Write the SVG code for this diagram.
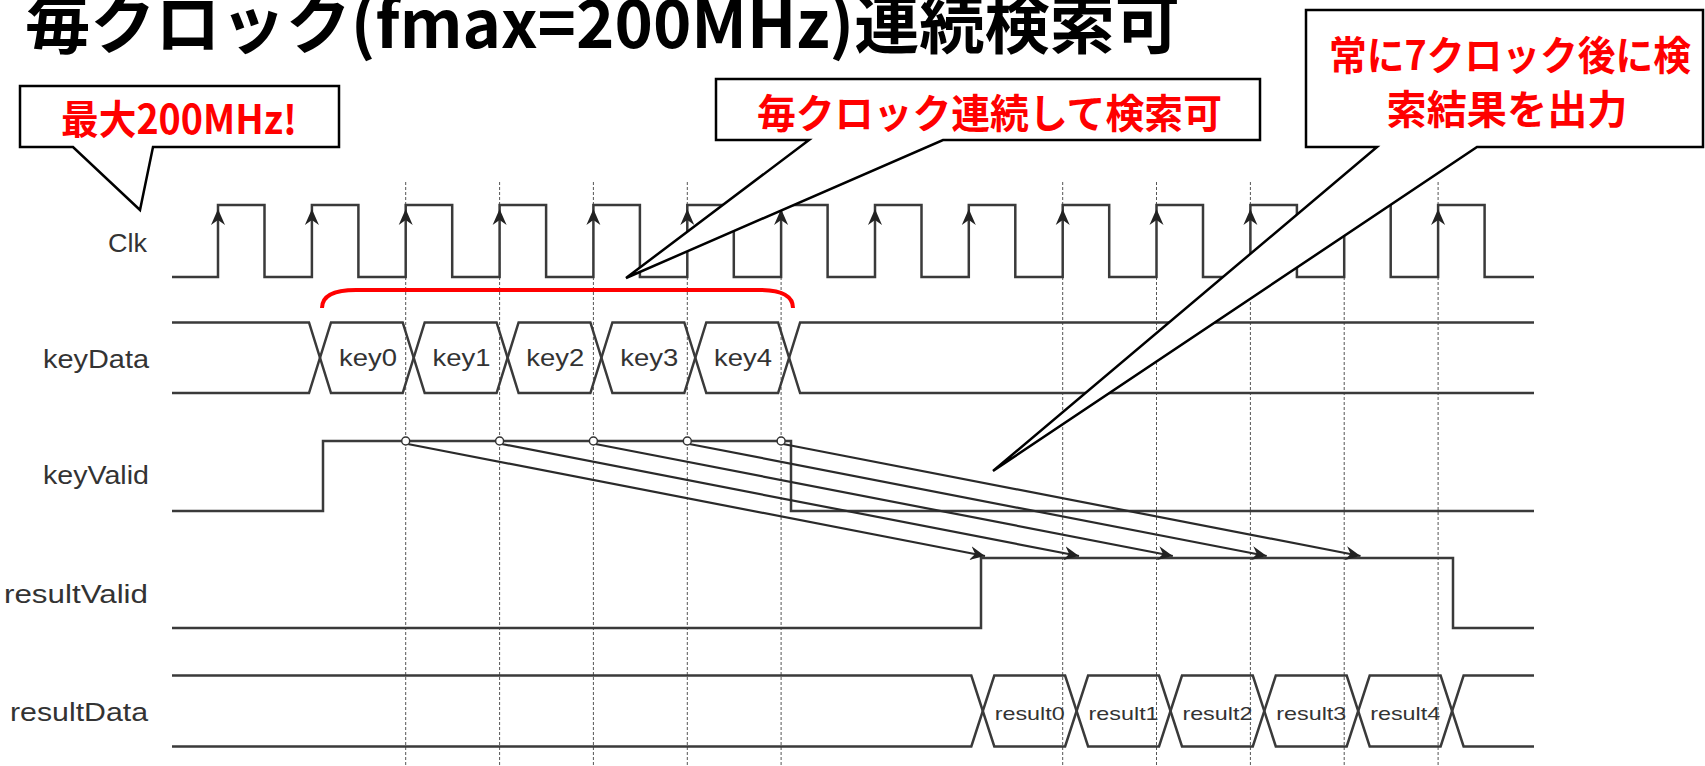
<svg xmlns="http://www.w3.org/2000/svg" xmlns:xlink="http://www.w3.org/1999/xlink" width="1705" height="766" viewBox="0 0 1705 766">
<style>
.wave{fill:none;stroke:#3a3a3a;stroke-width:2.5;stroke-linejoin:miter}
.grid{fill:none;stroke:#555;stroke-width:1;stroke-dasharray:3 2}
.lbl{font-family:"Liberation Sans",Arial,sans-serif;font-size:26px;fill:#333;text-anchor:end}
.dat{font-family:"Liberation Sans",Arial,sans-serif;font-size:24px;fill:#333;text-anchor:middle}
.res{font-family:"Liberation Sans",Arial,sans-serif;font-size:19px;fill:#333;text-anchor:middle}
.callout{fill:#fff;stroke:#000;stroke-width:2.5;stroke-linejoin:miter}
.ctext{font-family:"Noto Sans CJK JP","Noto Sans CJK SC",sans-serif;font-weight:bold;font-size:40px;fill:#ff0000;text-anchor:middle}
.arrow{fill:none;stroke:#2a2a2a;stroke-width:2.2}
.dot{fill:#fff;stroke:#333;stroke-width:1.5}
</style>
<defs>
<path id="ca" d="M0,0 L7,16 L0,11 L-7,16 Z" fill="#222"/>
<marker id="ah" markerUnits="userSpaceOnUse" markerWidth="18" markerHeight="14" refX="15" refY="7" orient="auto">
<path d="M0,0 L15,7 L0,14 L5,7 Z" fill="#222"/>
</marker>
</defs>
<rect width="1705" height="766" fill="#fff"/>

<g id="grid">
<line class="grid" x1="405.7" y1="182" x2="405.7" y2="766"/>
<line class="grid" x1="499.6" y1="182" x2="499.6" y2="766"/>
<line class="grid" x1="593.4" y1="182" x2="593.4" y2="766"/>
<line class="grid" x1="687.3" y1="182" x2="687.3" y2="766"/>
<line class="grid" x1="781.1" y1="182" x2="781.1" y2="766"/>
<line class="grid" x1="1062.7" y1="182" x2="1062.7" y2="766"/>
<line class="grid" x1="1156.5" y1="182" x2="1156.5" y2="766"/>
<line class="grid" x1="1250.4" y1="182" x2="1250.4" y2="766"/>
<line class="grid" x1="1344.2" y1="182" x2="1344.2" y2="766"/>
<line class="grid" x1="1438.1" y1="182" x2="1438.1" y2="766"/>
</g>

<g id="clk">
<text class="lbl" x="147" y="252" textLength="39" lengthAdjust="spacingAndGlyphs">Clk</text>
<path class="wave" d="M172,277 H218 V205 H264.5 V277 H311.9 V205 H358.4 V277 H405.7 V205 H452.2 V277 H499.6 V205 H546.1 V277 H593.4 V205 H639.9 V277 H687.3 V205 H733.8 V277 H781.1 V205 H827.6 V277 H875 V205 H921.5 V277 H968.8 V205 H1015.3 V277 H1062.7 V205 H1109.2 V277 H1156.5 V205 H1203 V277 H1250.4 V205 H1296.9 V277 H1344.2 V205 H1390.7 V277 H1438.1 V205 H1484.6 V277 H1534"/>
<use xlink:href="#ca" x="218" y="209"/>
<use xlink:href="#ca" x="311.9" y="209"/>
<use xlink:href="#ca" x="405.7" y="209"/>
<use xlink:href="#ca" x="499.6" y="209"/>
<use xlink:href="#ca" x="593.4" y="209"/>
<use xlink:href="#ca" x="687.3" y="209"/>
<use xlink:href="#ca" x="781.1" y="209"/>
<use xlink:href="#ca" x="875" y="209"/>
<use xlink:href="#ca" x="968.8" y="209"/>
<use xlink:href="#ca" x="1062.7" y="209"/>
<use xlink:href="#ca" x="1156.5" y="209"/>
<use xlink:href="#ca" x="1250.4" y="209"/>
<use xlink:href="#ca" x="1344.2" y="209"/>
<use xlink:href="#ca" x="1438.1" y="209"/>
</g>

<g id="keyData">
<text class="lbl" x="149" y="368" textLength="106" lengthAdjust="spacingAndGlyphs">keyData</text>
<path class="wave" d="M172,322.5 H309 L331,393 H402.7 L424.7,322.5 H496.6 L518.6,393 H590.4 L612.4,322.5 H684.3 L706.3,393 H778.1 L800.1,322.5 H1534"/>
<path class="wave" d="M172,393 H309 L331,322.5 H402.7 L424.7,393 H496.6 L518.6,322.5 H590.4 L612.4,393 H684.3 L706.3,322.5 H778.1 L800.1,393 H1534"/>
<text class="dat" x="368" y="366" textLength="58" lengthAdjust="spacingAndGlyphs">key0</text>
<text class="dat" x="461.5" y="366" textLength="58" lengthAdjust="spacingAndGlyphs">key1</text>
<text class="dat" x="555.3" y="366" textLength="58" lengthAdjust="spacingAndGlyphs">key2</text>
<text class="dat" x="649.2" y="366" textLength="58" lengthAdjust="spacingAndGlyphs">key3</text>
<text class="dat" x="743" y="366" textLength="58" lengthAdjust="spacingAndGlyphs">key4</text>
</g>

<g id="keyValid">
<text class="lbl" x="149" y="484" textLength="106" lengthAdjust="spacingAndGlyphs">keyValid</text>
<path class="wave" d="M172,511 H323 V441 H791 V511 H1534"/>
</g>

<g id="resultValid">
<text class="lbl" x="148" y="603" textLength="144" lengthAdjust="spacingAndGlyphs">resultValid</text>
<path class="wave" d="M172,628 H981 V558 H1453 V628 H1534"/>
</g>

<g id="resultData">
<text class="lbl" x="148" y="721" textLength="138" lengthAdjust="spacingAndGlyphs">resultData</text>
<path class="wave" d="M172,675.5 H971.3 L994.3,746.5 H1065.1 L1088.1,675.5 H1159 L1182,746.5 H1252.8 L1275.8,675.5 H1346.7 L1369.7,746.5 H1440.6 L1463.6,675.5 H1534"/>
<path class="wave" d="M172,746.5 H971.3 L994.3,675.5 H1065.1 L1088.1,746.5 H1159 L1182,675.5 H1252.8 L1275.8,746.5 H1346.7 L1369.7,675.5 H1440.6 L1463.6,746.5 H1534"/>
<text class="res" x="1029.7" y="720" textLength="70" lengthAdjust="spacingAndGlyphs">result0</text>
<text class="res" x="1123.6" y="720" textLength="70" lengthAdjust="spacingAndGlyphs">result1</text>
<text class="res" x="1217.4" y="720" textLength="70" lengthAdjust="spacingAndGlyphs">result2</text>
<text class="res" x="1311.3" y="720" textLength="70" lengthAdjust="spacingAndGlyphs">result3</text>
<text class="res" x="1405.2" y="720" textLength="70" lengthAdjust="spacingAndGlyphs">result4</text>
</g>

<g id="connectors">
<line class="arrow" x1="407.7" y1="444" x2="985" y2="556" marker-end="url(#ah)"/>
<line class="arrow" x1="501.6" y1="444" x2="1079" y2="556" marker-end="url(#ah)"/>
<line class="arrow" x1="595.4" y1="444" x2="1172.8" y2="556" marker-end="url(#ah)"/>
<line class="arrow" x1="689.3" y1="444" x2="1266.7" y2="556" marker-end="url(#ah)"/>
<line class="arrow" x1="783.1" y1="444" x2="1360.5" y2="556" marker-end="url(#ah)"/>
<circle class="dot" cx="405.7" cy="441" r="4"/>
<circle class="dot" cx="499.6" cy="441" r="4"/>
<circle class="dot" cx="593.4" cy="441" r="4"/>
<circle class="dot" cx="687.3" cy="441" r="4"/>
<circle class="dot" cx="781.1" cy="441" r="4"/>
</g>

<g id="bracket">
<path d="M322,308 C322,296 334,290 356,290 H759 C781,290 793,296 793,308" fill="none" stroke="#ff0000" stroke-width="4"/>
</g>

<g id="callout1">
<path class="callout" d="M20,86 H339 V147 H153 L140,210 L73,147 H20 Z"/>
<text class="ctext" x="179" y="134" textLength="236" lengthAdjust="spacingAndGlyphs">最大200MHz!</text>
</g>

<g id="callout2">
<path class="callout" d="M716,79 H1260 V140 H943 L626,278 L809,140 H716 Z"/>
<text class="ctext" x="989.5" y="128" textLength="465" lengthAdjust="spacingAndGlyphs">毎クロック連続して検索可</text>
</g>

<g id="callout3">
<path class="callout" d="M1306,10 H1703 V147 H1477 L993,471 L1377,147 H1306 Z"/>
<text class="ctext" x="1510" y="70" font-size="38" textLength="362" lengthAdjust="spacingAndGlyphs">常に7クロック後に検</text>
<text class="ctext" x="1507" y="124" font-size="38" textLength="241" lengthAdjust="spacingAndGlyphs">索結果を出力</text>
</g>

<g id="title">
<text x="25" y="48" font-family="'Noto Sans CJK JP','Noto Sans CJK SC',sans-serif" font-weight="bold" font-size="66" fill="#000" textLength="1155" lengthAdjust="spacingAndGlyphs">毎クロック(fmax=200MHz)連続検索可</text>
</g>
</svg>
